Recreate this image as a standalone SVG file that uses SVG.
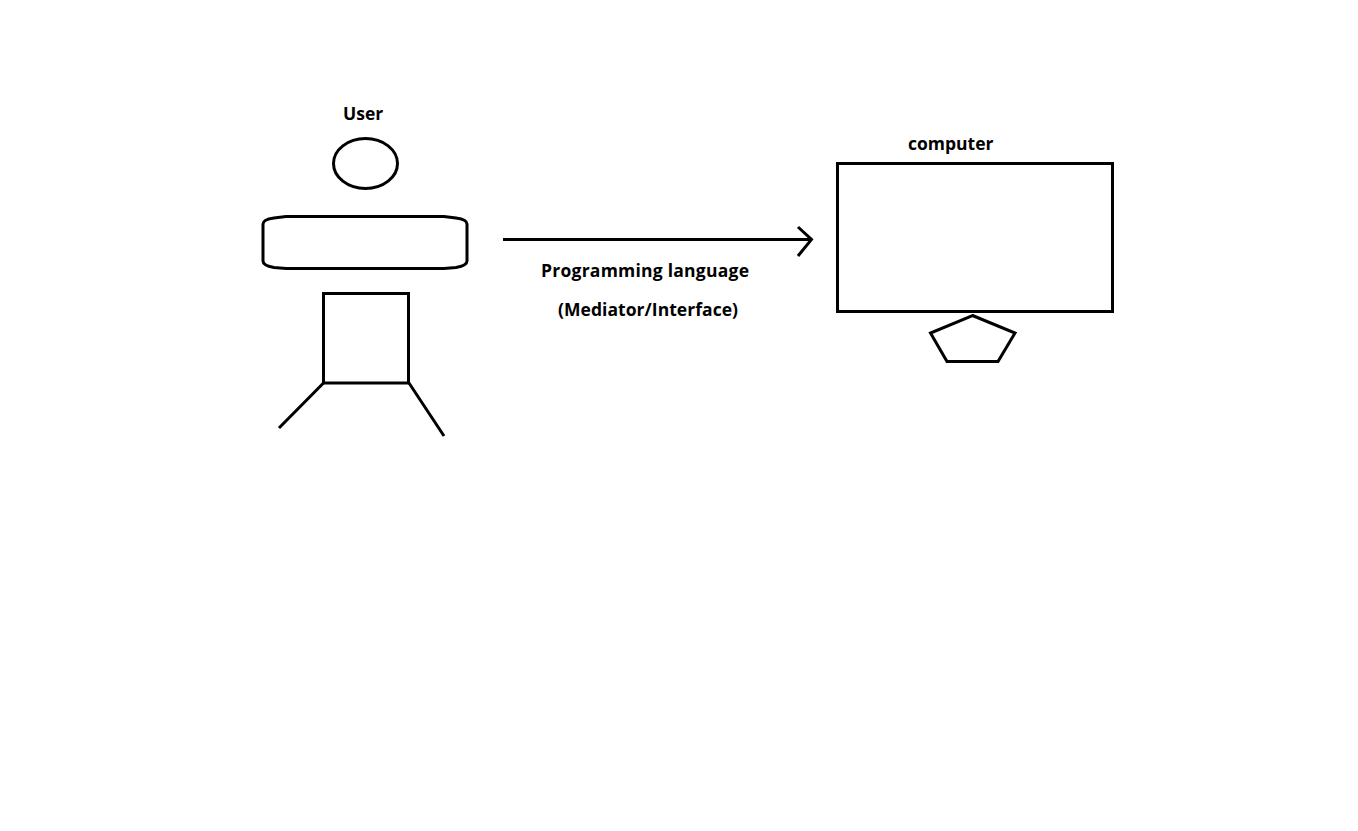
<svg xmlns="http://www.w3.org/2000/svg" width="1358" height="831" viewBox="0 0 1358 831">
<style>
.s{fill:none;stroke:#000;stroke-width:3}
.t{fill:#000;font-family:"Open Sans","Noto Sans","Liberation Sans",sans-serif;font-weight:700;font-size:17.5px}
</style>
<rect width="1358" height="831" fill="#fff"/>
<g id="user">
<text class="t" x="343" y="119.500">User</text>
<ellipse class="s" cx="365.500" cy="163.500" rx="32" ry="25"/>
<path class="s" d="M286 216.500H444L456 218Q467 219.500 467 224V261Q467 265.500 456 267.500L444 268.500H286L274 267.500Q263 265.500 263 261V224Q263 219.500 274 218Z"/>
<rect class="s" x="323.500" y="293.500" width="85" height="89.500"/>
<path class="s" d="M323.500 383L279 428M409 383L444 436"/>
</g>
<g id="computer">
<text class="t" x="908" y="149.500">computer</text>
<rect class="s" x="837.500" y="163.500" width="275" height="148"/>
<path class="s" d="M972.500 315.500L1015 333L998 361.500H947L930.500 333Z"/>
</g>
<g id="connectors">
<path class="s" d="M503 239.500H811M798 227L811.500 239.500L798 256"/>
</g>
<g id="label">
<text class="t" x="541" y="276.500" textLength="208">Programming language</text>
<text class="t" x="558" y="315.500" textLength="180">(Mediator/Interface)</text>
</g>
</svg>
